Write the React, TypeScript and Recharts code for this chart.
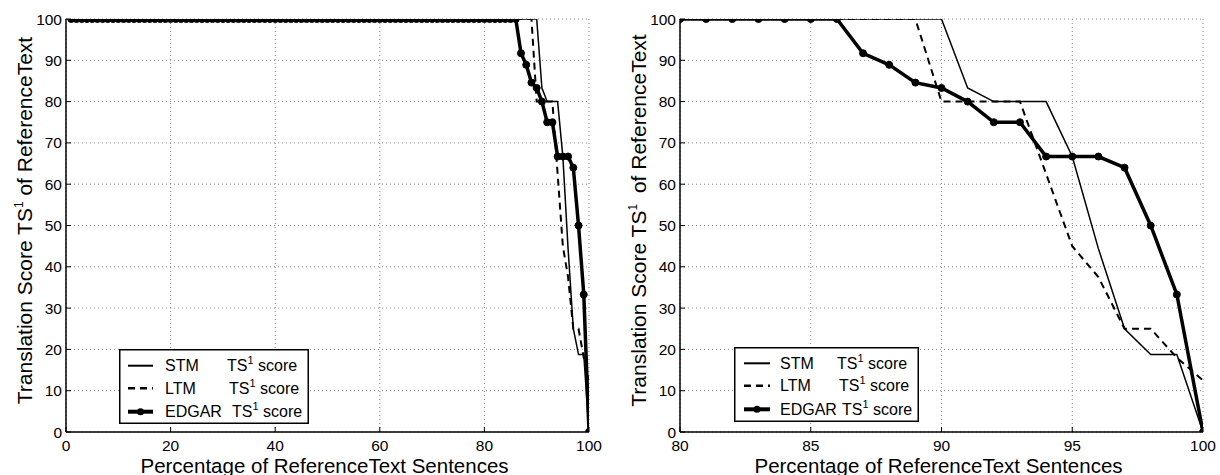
import React from 'react';
import { LineChart, Line, XAxis, YAxis, CartesianGrid, Legend } from 'recharts';

const FONT = '"Liberation Sans", Arial, Helvetica, sans-serif';

// Percentage of ReferenceText sentences (x values)
const percent = [
  1, 2, 3, 4, 5, 6, 7, 8, 9, 10,
  11, 12, 13, 14, 15, 16, 17, 18, 19, 20,
  21, 22, 23, 24, 25, 26, 27, 28, 29, 30,
  31, 32, 33, 34, 35, 36, 37, 38, 39, 40,
  41, 42, 43, 44, 45, 46, 47, 48, 49, 50,
  51, 52, 53, 54, 55, 56, 57, 58, 59, 60,
  61, 62, 63, 64, 65, 66, 67, 68, 69, 70,
  71, 72, 73, 74, 75, 76, 77, 78, 79, 80,
  81, 82, 83, 84, 85, 86, 87, 88, 89, 90,
  91, 92, 93, 94, 95, 96, 97, 98, 99, 100,
];

const stmScore = [
  100, 100, 100, 100, 100, 100, 100, 100, 100, 100,
  100, 100, 100, 100, 100, 100, 100, 100, 100, 100,
  100, 100, 100, 100, 100, 100, 100, 100, 100, 100,
  100, 100, 100, 100, 100, 100, 100, 100, 100, 100,
  100, 100, 100, 100, 100, 100, 100, 100, 100, 100,
  100, 100, 100, 100, 100, 100, 100, 100, 100, 100,
  100, 100, 100, 100, 100, 100, 100, 100, 100, 100,
  100, 100, 100, 100, 100, 100, 100, 100, 100, 100,
  100, 100, 100, 100, 100, 100, 100, 100, 100, 100,
  83.3, 80, 80, 80, 66.7, 44.4, 25, 18.75, 18.75, 0,
];

const ltmScore = [
  100, 100, 100, 100, 100, 100, 100, 100, 100, 100,
  100, 100, 100, 100, 100, 100, 100, 100, 100, 100,
  100, 100, 100, 100, 100, 100, 100, 100, 100, 100,
  100, 100, 100, 100, 100, 100, 100, 100, 100, 100,
  100, 100, 100, 100, 100, 100, 100, 100, 100, 100,
  100, 100, 100, 100, 100, 100, 100, 100, 100, 100,
  100, 100, 100, 100, 100, 100, 100, 100, 100, 100,
  100, 100, 100, 100, 100, 100, 100, 100, 100, 100,
  100, 100, 100, 100, 100, 100, 100, 100, 100, 80,
  80, 80, 80, 62.5, 45, 37.5, 25, 25, 18, 12.5,
];

const edgarScore = [
  100, 100, 100, 100, 100, 100, 100, 100, 100, 100,
  100, 100, 100, 100, 100, 100, 100, 100, 100, 100,
  100, 100, 100, 100, 100, 100, 100, 100, 100, 100,
  100, 100, 100, 100, 100, 100, 100, 100, 100, 100,
  100, 100, 100, 100, 100, 100, 100, 100, 100, 100,
  100, 100, 100, 100, 100, 100, 100, 100, 100, 100,
  100, 100, 100, 100, 100, 100, 100, 100, 100, 100,
  100, 100, 100, 100, 100, 100, 100, 100, 100, 100,
  100, 100, 100, 100, 100, 100, 91.7, 88.9, 84.6, 83.3,
  80, 75, 75, 66.7, 66.7, 66.7, 64, 50, 33.3, 0,
];

const leftXTicks = [0, 20, 40, 60, 80, 100];
const rightXTicks = [80, 85, 90, 95, 100];
const yTicks = [0, 10, 20, 30, 40, 50, 60, 70, 80, 90, 100];

const seriesNames = ['STM', 'LTM', 'EDGAR'];
const seriesKeys = ['stm', 'ltm', 'edgar'];

const rows = percent.map((x, i) => ({
  x,
  stm: stmScore[i],
  ltm: ltmScore[i],
  edgar: edgarScore[i],
}));
const zoomRows = rows.filter((r) => r.x >= 80);

const lineStyles: Record<string, any> = {
  stm: { width: 1.5, dash: undefined, dot: false },
  ltm: { width: 2, dash: '7 5', dot: false },
  edgar: { width: 3.5, dash: undefined, dot: true },
};

const makeYTitle = (gap: number) => (props: any) => {
  const vb = props.viewBox || {};
  const x = vb.x + vb.width - 34;
  const y = vb.y + vb.height / 2 - 5;
  return (
    <text
      x={x}
      y={y}
      transform={`rotate(-90, ${x}, ${y})`}
      textAnchor="middle"
      fontFamily={FONT}
      fontSize={21}
      fill="#000"
    >
      Translation Score TS
      <tspan dy={-9} fontSize={12}>1</tspan>
      <tspan dy={9} dx={gap}> of ReferenceText</tspan>
    </text>
  );
};

const renderXTitle = (props: any) => {
  const vb = props.viewBox || {};
  return (
    <text
      x={vb.x + vb.width / 2 - 3}
      y={vb.y + 41}
      textAnchor="middle"
      fontFamily={FONT}
      fontSize={20.5}
      fill="#000"
    >
      Percentage of ReferenceText Sentences
    </text>
  );
};

type LegendCfg = {
  left: number;
  top: number;
  w: number;
  h: number;
  rowsY: number[];
  sx1: number;
  sx2: number;
  textX: number;
  tsX: number[];
};

const makeLegend = (cfg: LegendCfg) => () => (
  <svg width={cfg.w} height={cfg.h} style={{ display: 'block', overflow: 'visible' }}>
    <rect x={0.75} y={0.75} width={cfg.w - 1.5} height={cfg.h - 1.5} fill="#fff" stroke="#000" strokeWidth={1.5} />
    {seriesKeys.map((k, i) => {
      const st = lineStyles[k];
      const cy = cfg.rowsY[i];
      return (
        <g key={k}>
          <line x1={cfg.sx1} x2={cfg.sx2} y1={cy} y2={cy} stroke="#000" strokeWidth={st.width + 0.5} strokeDasharray={st.dash} />
          {st.dot && <circle cx={(cfg.sx1 + cfg.sx2) / 2} cy={cy} r={3.5} fill="#000" />}
          <text x={cfg.textX} y={cy + 5.5} fontFamily={FONT} fontSize={16} fill="#000">
            {seriesNames[i]}
          </text>
          <text x={cfg.tsX[i]} y={cy + 5.5} fontFamily={FONT} fontSize={16} fill="#000">
            TS
            <tspan dy={-7} fontSize={11}>1</tspan>
            <tspan dy={7}> score</tspan>
          </text>
        </g>
      );
    })}
  </svg>
);

type PanelProps = {
  data: any[];
  domain: [number, number];
  ticks: number[];
  left: number;
  yAxisWidth: number;
  marginRight: number;
  legend: LegendCfg;
  gap: number;
};

function Panel({ data, domain, ticks, left, yAxisWidth, marginRight, legend, gap }: PanelProps) {
  const tickStyle = { fill: '#000', fontSize: 15.5, fontFamily: FONT };
  const axisLineStyle = { stroke: '#000', strokeWidth: 1.5 };
  return (
    <div style={{ position: 'absolute', left, top: 0 }}>
      <LineChart width={610} height={475} data={data} margin={{ top: 19, right: marginRight, bottom: 0, left: 0 }}>
        <CartesianGrid xAxisId="b" yAxisId="l" stroke="#8a8a8a" strokeDasharray="1 3" />
        <XAxis
          xAxisId="b"
          dataKey="x"
          type="number"
          domain={domain}
          ticks={ticks}
          interval={0}
          allowDataOverflow
          height={43}
          tickSize={-5}
          tickMargin={13}
          axisLine={axisLineStyle}
          tickLine={{ stroke: '#000' }}
          tick={tickStyle}
          label={{ content: renderXTitle }}
        />
        <XAxis
          xAxisId="t"
          orientation="top"
          type="number"
          domain={domain}
          ticks={ticks}
          interval={0}
          allowDataOverflow
          height={0}
          tickSize={-5}
          axisLine={axisLineStyle}
          tickLine={{ stroke: '#000' }}
          tickFormatter={() => ''}
        />
        <YAxis
          yAxisId="l"
          type="number"
          domain={[0, 100]}
          ticks={yTicks}
          interval={0}
          allowDataOverflow
          width={yAxisWidth}
          tickSize={-5}
          tickMargin={9}
          axisLine={axisLineStyle}
          tickLine={{ stroke: '#000' }}
          tick={tickStyle}
          label={{ content: makeYTitle(gap) }}
        />
        <YAxis
          yAxisId="r"
          orientation="right"
          type="number"
          domain={[0, 100]}
          ticks={yTicks}
          interval={0}
          allowDataOverflow
          width={0}
          tickSize={-5}
          axisLine={axisLineStyle}
          tickLine={{ stroke: '#000' }}
          tickFormatter={() => ''}
        />
        {seriesKeys.map((k) => {
          const st = lineStyles[k];
          return (
            <Line
              key={k}
              xAxisId="b"
              yAxisId="l"
              type="linear"
              dataKey={k}
              name={k}
              stroke="#000"
              strokeWidth={st.width}
              strokeDasharray={st.dash}
              dot={st.dot ? { r: 3.5, fill: '#000', stroke: '#000', strokeWidth: 1 } : false}
              activeDot={false}
              isAnimationActive={false}
            />
          );
        })}
        <Legend
          layout="vertical"
          align="center"
          verticalAlign="middle"
          content={makeLegend(legend)}
          wrapperStyle={{ left: legend.left, top: legend.top, width: legend.w, height: legend.h, margin: 0, padding: 0, lineHeight: 0 }}
        />
      </LineChart>
    </div>
  );
}

export default function App() {
  return (
    <div style={{ position: 'absolute', left: 0, top: 0, width: 1220, height: 475, background: '#fff' }}>
      <Panel
        data={rows}
        domain={[0, 100]}
        ticks={leftXTicks}
        left={0}
        yAxisWidth={66}
        marginRight={21}
        gap={0}
        legend={{ left: 119, top: 349, w: 190, h: 75, rowsY: [16.7, 39.3, 62.7], sx1: 9, sx2: 34, textX: 46, tsX: [108, 110, 113] }}
      />
      <Panel
        data={zoomRows}
        domain={[80, 100]}
        ticks={rightXTicks}
        left={610}
        yAxisWidth={70}
        marginRight={17}
        gap={5}
        legend={{ left: 124, top: 347, w: 185, h: 75, rowsY: [16.3, 38.7, 62.3], sx1: 10, sx2: 36, textX: 46, tsX: [103, 105, 108] }}
      />
    </div>
  );
}
